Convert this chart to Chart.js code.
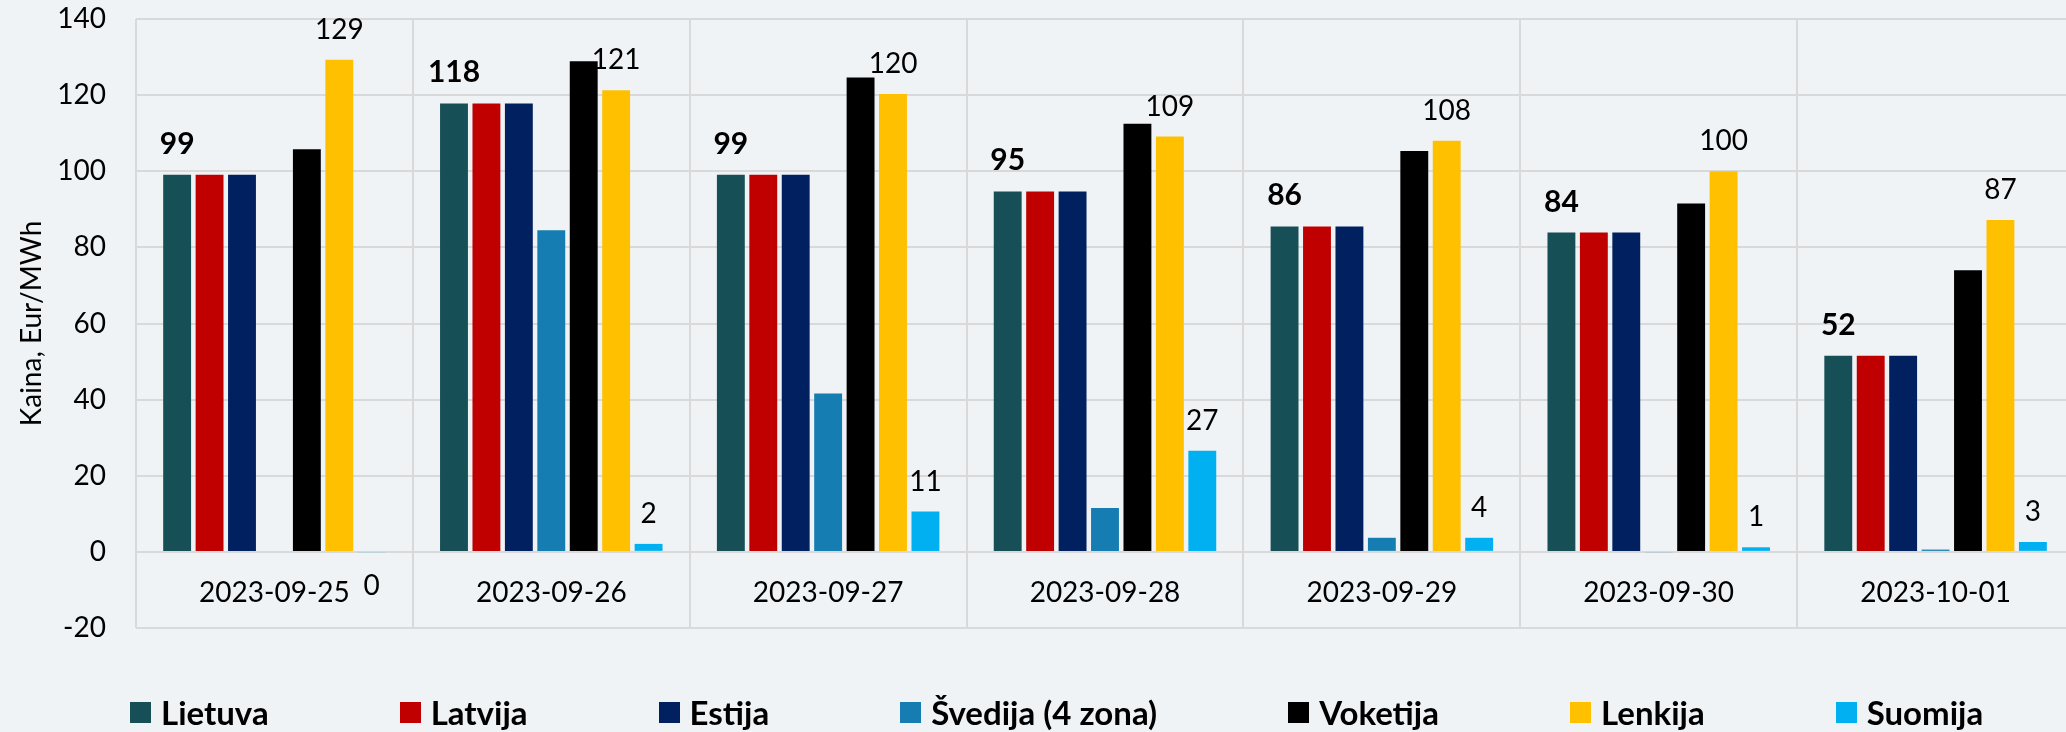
<!DOCTYPE html>
<html>
<head>
<meta charset="utf-8">
<script src="https://cdn.jsdelivr.net/npm/chart.js@4.4.0/dist/chart.umd.min.js"></script>
<style>
  html, body { margin: 0; padding: 0; background: #F0F3F6; overflow: hidden; }
  #wrap { position: relative; width: 2074px; height: 732px; }
  #legend { position: absolute; left: 130px; top: 692px; display: flex; align-items: center; white-space: nowrap; font-family: Lato, sans-serif; font-weight: bold; font-size: 33px; color: #000; }
  #legend .item { display: flex; align-items: center; margin-right: 131px; }
  #legend .box { width: 21px; height: 21px; margin-right: 10px; }
</style>
</head>
<body>
<div id="wrap">
  <canvas id="grafico"></canvas>
  <div id="legend"></div>
</div>
<script>
// datos
var dias = ['2023-09-25', '2023-09-26', '2023-09-27', '2023-09-28', '2023-09-29', '2023-09-30', '2023-10-01'];
var lietuva  = [99.1, 117.8, 99.1, 94.7, 85.5, 83.9, 51.5];
var latvija  = [99.1, 117.8, 99.1, 94.7, 85.5, 83.9, 51.5];
var estija   = [99.1, 117.8, 99.1, 94.7, 85.5, 83.9, 51.5];
var svedija  = [null, 84.5, 41.6, 11.5, 3.7, -0.3, 0.6];
var voketija = [105.8, 128.9, 124.6, 112.5, 105.3, 91.5, 74.0];
var lenkija  = [129.3, 121.3, 120.3, 109.1, 108.0, 100.0, 87.2];
var suomija  = [-0.3, 2.1, 10.6, 26.6, 3.7, 1.2, 2.6];

var yMin = -20, yMax = 140, yPaso = 20;

var nombres = ['Lietuva', 'Latvija', 'Estija', 'Švedija (4 zona)', 'Voketija', 'Lenkija', 'Suomija'];
var series = [lietuva, latvija, estija, svedija, voketija, lenkija, suomija];
var colores = ['#174F57', '#C00000', '#002060', '#157DB1', '#000000', '#FFC000', '#00B0F0'];
// que series llevan etiqueta de valor (0 = no, 1 = normal, 2 = negrita)
var etiquetas = [2, 0, 0, 0, 0, 1, 1];

var gris = '#D9D9D9';

var datasets = series.map(function(d, i) {
  return {
    label: nombres[i],
    data: d,
    backgroundColor: colores[i],
    borderWidth: 0,
    categoryPercentage: 0.82,
    barPercentage: 0.86,
    etiqueta: etiquetas[i]
  };
});

// dibuja los numeros encima de las barras
var etiquetasValor = {
  id: 'etiquetasValor',
  afterDatasetsDraw: function(chart) {
    var ctx = chart.ctx;
    chart.data.datasets.forEach(function(ds, i) {
      if (!ds.etiqueta) return;
      var meta = chart.getDatasetMeta(i);
      meta.data.forEach(function(bar, j) {
        var v = ds.data[j];
        if (v === null) return;
        ctx.save();
        ctx.fillStyle = '#000';
        ctx.textAlign = 'center';
        ctx.textBaseline = 'alphabetic';
        ctx.font = ds.etiqueta === 2 ? 'bold 30px Lato' : '28px Lato';
        var y = v >= 0 ? Math.min(bar.y, bar.base) - 21 : Math.max(bar.y, bar.base) + 42;
        ctx.fillText(String(Math.round(v)), bar.x, y);
        ctx.restore();
      });
    });
  }
};

var lienzo = document.getElementById('grafico').getContext('2d');
var grafico = new Chart(lienzo, {
  type: 'bar',
  data: { labels: dias, datasets: datasets },
  options: {
    responsive: true,
    maintainAspectRatio: false,
    animation: false,
    layout: { padding: { top: 19, bottom: 104, left: 0, right: 0 } },
    plugins: { legend: { display: false }, tooltip: { enabled: false } },
    scales: {
      x: {
        position: { y: 0 },
        grid: { color: gris, lineWidth: 2, drawTicks: false, offset: true },
        border: { display: false },
        ticks: { color: '#000', font: { family: 'Lato', size: 28 }, padding: 24, maxRotation: 0, autoSkip: false },
        // el eje va en y=0, que no reserve espacio
        afterFit: function(s) { s.height = 0; s.paddingTop = 0; s.paddingBottom = 0; }
      },
      y: {
        min: yMin,
        max: yMax,
        ticks: { stepSize: yPaso, color: '#000', font: { family: 'Lato', size: 28 }, padding: 30 },
        grid: { color: gris, lineWidth: 2, drawTicks: false },
        border: { display: false },
        title: { display: true, text: 'Kaina, Eur/MWh', color: '#000', font: { family: 'Lato', size: 28 }, padding: { top: 15, bottom: 0 } },
        afterFit: function(s) { s.width = 136; s.paddingTop = 0; s.paddingBottom = 0; }
      }
    }
  },
  plugins: [etiquetasValor]
});

// leyenda en html
var leyenda = document.getElementById('legend');
nombres.forEach(function(n, i) {
  var it = document.createElement('div');
  it.className = 'item';
  var b = document.createElement('span');
  b.className = 'box';
  b.style.background = colores[i];
  var t = document.createElement('span');
  t.textContent = n;
  it.appendChild(b);
  it.appendChild(t);
  leyenda.appendChild(it);
});
</script>
</body>
</html>
